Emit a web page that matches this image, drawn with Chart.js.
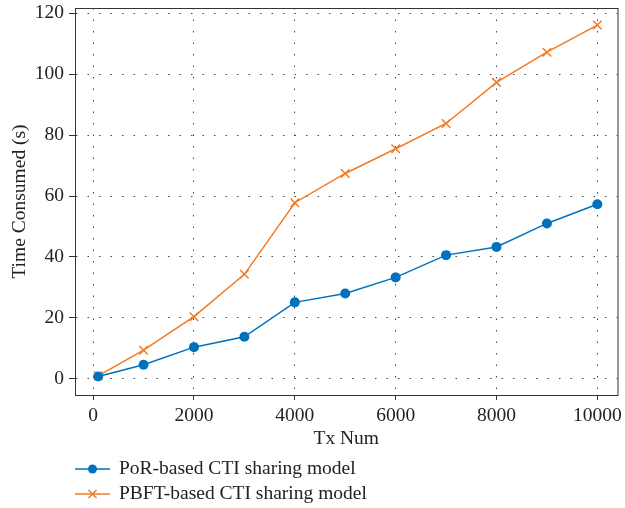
<!DOCTYPE html>
<html>
<head>
<meta charset="utf-8">
<script src="https://cdn.jsdelivr.net/npm/chart.js@4.4.1/dist/chart.umd.min.js"></script>
<style>
  html, body { margin: 0; padding: 0; background: #fff; }
  #wrap { width: 625px; height: 508px; }
</style>
</head>
<body>
<div id="wrap"><canvas id="chart-line" width="625" height="508"></canvas></div>
<script>
// ========== data ==========
const txNum = [100, 1000, 2000, 3000, 4000, 5000, 6000, 7000, 8000, 9000, 10000];
const porTime = [0.8, 4.6, 10.4, 13.8, 25.1, 28.0, 33.3, 40.6, 43.3, 51.0, 57.3];
const pbftTime = [1.0, 9.4, 20.4, 34.3, 57.8, 67.4, 75.5, 83.8, 97.3, 107.2, 116.1];
const xTicks = [0, 2000, 4000, 6000, 8000, 10000];
const yTicks = [0, 20, 40, 60, 80, 100, 120];
const seriesNames = ["PoR-based CTI sharing model", "PBFT-based CTI sharing model"];

const blue = "#0072BD";
const orange = "#F47A22";
const fontFamily = "'Liberation Serif', 'DejaVu Serif', serif";

// box around plot + custom legend under the axis
const boxAndLegend = {
  id: "boxAndLegend",
  afterDraw: (chart) => {
    const { ctx, chartArea } = chart;
    ctx.save();
    ctx.strokeStyle = "#333";
    ctx.lineWidth = 1;
    ctx.strokeRect(chartArea.left + 0.5, chartArea.top + 0.5,
      chartArea.right - chartArea.left, chartArea.bottom - chartArea.top);

    const rows = [469, 494];
    chart.data.datasets.forEach((ds, i) => {
      const y = rows[i];
      ctx.strokeStyle = ds.borderColor;
      ctx.lineWidth = 1.5;
      ctx.beginPath();
      ctx.moveTo(75, y);
      ctx.lineTo(110, y);
      ctx.stroke();
      if (ds.pointStyle === "circle") {
        ctx.fillStyle = ds.borderColor;
        ctx.beginPath();
        ctx.arc(92.5, y, 4.5, 0, Math.PI * 2);
        ctx.fill();
      } else {
        ctx.beginPath();
        ctx.moveTo(88.5, y - 4); ctx.lineTo(96.5, y + 4);
        ctx.moveTo(96.5, y - 4); ctx.lineTo(88.5, y + 4);
        ctx.stroke();
      }
      ctx.fillStyle = "#222";
      ctx.font = "19.5px " + fontFamily;
      ctx.textBaseline = "middle";
      ctx.textAlign = "left";
      ctx.fillText(ds.label, 119, y);
    });
    ctx.restore();
  },
};

function noOverhang(scale) {
  scale.paddingTop = 0;
  scale.paddingBottom = 0;
  scale.paddingLeft = 0;
  scale.paddingRight = 0;
}

const ctxLine = document.getElementById("chart-line").getContext("2d");
const chartLine = new Chart(ctxLine, {
  type: "line",
  data: {
    datasets: [
      {
        label: seriesNames[0],
        data: txNum.map((x, i) => ({ x: x, y: porTime[i] })),
        borderColor: blue,
        backgroundColor: blue,
        borderWidth: 1.5,
        pointStyle: "circle",
        pointRadius: 5,
        pointBorderWidth: 0,
        tension: 0,
      },
      {
        label: seriesNames[1],
        data: txNum.map((x, i) => ({ x: x, y: pbftTime[i] })),
        borderColor: orange,
        backgroundColor: orange,
        borderWidth: 1.5,
        pointStyle: "crossRot",
        pointRadius: 6,
        pointBorderWidth: 1.5,
        tension: 0,
      },
    ],
  },
  options: {
    responsive: false,
    animation: false,
    layout: {
      padding: { top: 8, right: 6, bottom: 57, left: 0 },
    },
    plugins: {
      legend: { display: false },
      tooltip: { enabled: false },
    },
    scales: {
      x: {
        type: "linear",
        min: -360,
        max: 10400,
        afterBuildTicks: (scale) => {
          scale.ticks = xTicks.map((v) => ({ value: v }));
        },
        afterFit: (scale) => {
          scale.height = 56;
          noOverhang(scale);
        },
        grid: {
          color: "#444",
          lineWidth: 1,
          drawTicks: true,
          tickLength: 5,
          tickColor: "#333",
          tickBorderDash: [],
        },
        border: { display: true, color: "#333", width: 1, dash: [1.5, 10] },
        ticks: {
          color: "#222",
          font: { family: fontFamily, size: 19.5 },
          padding: 4,
          maxRotation: 0,
          callback: (v) => String(v),
        },
        title: {
          display: true,
          text: "Tx Num",
          color: "#222",
          font: { family: fontFamily, size: 19.5 },
          padding: { top: 0, bottom: 0 },
        },
      },
      y: {
        type: "linear",
        min: -5.3,
        max: 121.7,
        afterBuildTicks: (scale) => {
          scale.ticks = yTicks.map((v) => ({ value: v }));
        },
        afterFit: (scale) => {
          scale.width = 75;
          noOverhang(scale);
        },
        grid: {
          color: "#444",
          lineWidth: 1,
          drawTicks: true,
          tickLength: 6,
          tickColor: "#333",
          tickBorderDash: [],
        },
        border: { display: true, color: "#333", width: 1, dash: [1.5, 10] },
        ticks: {
          color: "#222",
          font: { family: fontFamily, size: 19.5 },
          padding: 5,
          callback: (v) => String(v),
        },
        title: {
          display: true,
          text: "Time Consumed (s)",
          color: "#222",
          font: { family: fontFamily, size: 19.5 },
          padding: { top: 8, bottom: 0 },
        },
      },
    },
  },
  plugins: [boxAndLegend],
});
</script>
</body>
</html>
